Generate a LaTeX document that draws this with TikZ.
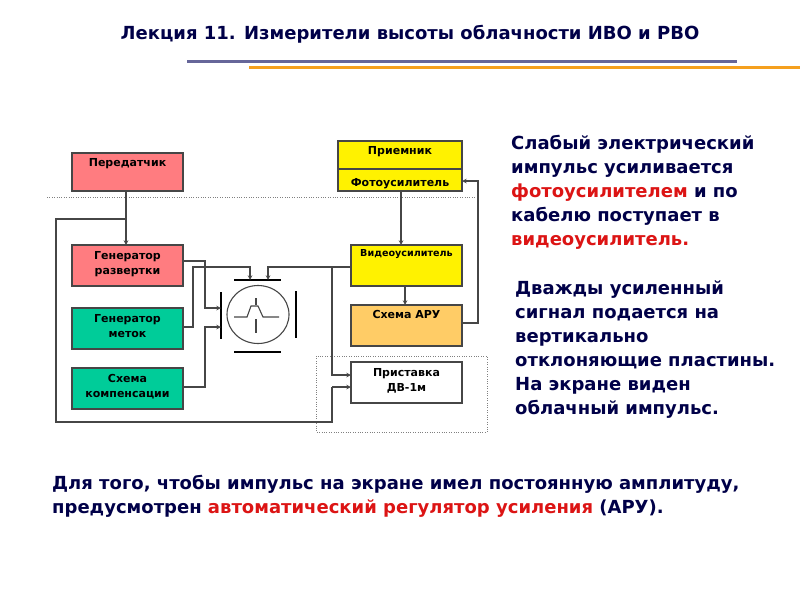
\documentclass[tikz,border=0pt]{standalone}
\usepackage{fontspec}
\setmainfont{DejaVu Sans}
\usetikzlibrary{positioning}
\definecolor{navytext}{RGB}{0,0,72}
\definecolor{redtext}{RGB}{220,20,20}
\definecolor{pinkbox}{RGB}{255,124,128}
\definecolor{greenbox}{RGB}{0,204,153}
\definecolor{orangebox}{RGB}{255,204,102}
\definecolor{rulebar}{RGB}{102,102,153}
\definecolor{rulelight}{RGB}{245,160,30}
\definecolor{wire}{RGB}{70,70,70}
\begin{document}
\begin{tikzpicture}[x=1pt, y=-1pt, node distance=22pt,
        block/.style={rectangle, draw=wire, line width=1.1pt, outer sep=0pt, minimum width=111pt, minimum height=41pt, inner sep=0pt, align=center, text=black, font=\fontsize{11}{15}\selectfont\bfseries},
        line/.style={draw=wire, line width=1.1pt, -stealth},
        wire/.style={draw=wire, line width=1.1pt},
        plate/.style={draw=black, line width=2pt},
        para/.style={anchor=north west, inner sep=0pt, align=left, text=navytext, font=\fontsize{18}{24}\selectfont\bfseries}]

    \useasboundingbox (0,0) rectangle (800,600);

    \node [anchor=center, inner sep=0pt, text=navytext, font=\fontsize{18}{20}\selectfont\bfseries] (title) at (410,34) {Лекция 11. Измерители высоты облачности ИВО и РВО};
    \draw [rulebar, line width=3pt] (187,61) -- (737,61);
    \draw [rulelight, line width=3pt] (249,67) -- (800,67);

    \draw [gray, dotted] (47,197) -- (475,197);
    \draw [gray, dotted] (316,356) rectangle (487,432);

    % left column
    \node [block, fill=pinkbox, minimum height=38pt, anchor=north west] (pered) at (72,153) {Передатчик\\[5pt]~};
    \node [block, fill=pinkbox, below=54pt of pered] (genrazv) {Генератор\\развертки\\[-9pt]~};
    \node [block, fill=greenbox, below=of genrazv] (genmet) {Генератор\\меток\\[-9pt]~};
    \node [block, fill=greenbox, below=19pt of genmet] (komp) {Схема\\компенсации\\[-9pt]~};

    % right column
    \node [block, fill=yellow, minimum width=124pt, minimum height=28pt, anchor=north west] (priem) at (338,141) {Приемник\\[-5pt]~};
    \node [block, fill=yellow, minimum width=124pt, minimum height=22pt, below=0pt of priem] (foto) {~\\[1pt]Фотоусилитель};
    \node [block, fill=yellow, anchor=north west, font=\fontsize{9.6}{15}\selectfont\bfseries] (video) at (351,245) {Видеоусилитель\\[10pt]~};
    \node [block, fill=orangebox, below=19pt of video] (aru) {Схема АРУ\\[8pt]~};
    \node [block, fill=white, below=16pt of aru] (prist) {Приставка\\ДВ-1м\\[-9pt]~};

    % tube
    \draw [plate] (234,280) -- (281,280);
    \draw [plate] (234,352) -- (281,352);
    \draw [plate] (221,292) -- (221,339);
    \draw [plate] (296,291) -- (296,338);
    \draw [wire] (258,314.5) ellipse (31 and 29);
    \draw [wire] (234,317) -- (247,317) -- (251,306) -- (258,306) -- (263,317) -- (279,317);
    \draw [wire] (256,298) -- (256,305);
    \draw [wire] (256,319) -- (256,333);

    \coordinate (plleft1) at (221,308);
    \coordinate (plleft2) at (221,327);
    \coordinate (pltop1) at (250,280);
    \coordinate (pltop2) at (268,280);

    % connections
    \path [line] (pered.south -| 126,0) -- (genrazv.north -| 126,0);
    \path [wire] (126,219) -- (56,219) -- (56,422) -- (332,422) -- (332,387);
    \path [line] (332,387) -- (prist.west |- 0,387);
    \path [line] (genrazv.east |- 0,261) -- (205,261) -- (205,308) -- (plleft1);
    \path [line] (genmet.east |- 0,327) -- (193,327) -- (193,267) -- (250,267) -- (pltop1);
    \path [line] (komp.east |- 0,387) -- (205,387) -- (205,327) -- (plleft2);
    \path [line] (video.west |- 0,267) -- (268,267) -- (pltop2);
    \path [line] (332,267) -- (332,375) -- (prist.west |- 0,375);
    \path [line] (foto.south -| 401,0) -- (video.north -| 401,0);
    \path [line] (video.south -| 405,0) -- (aru.north -| 405,0);
    \path [line] (aru.east |- 0,323) -- (478,323) -- (478,181) -- (foto.east |- 0,181);

    % texts
    \node [para] (slabyj) at (511,135) {Слабый электрический\\импульс усиливается\\{\color{redtext}фотоусилителем} и по\\кабелю поступает в\\{\color{redtext}видеоусилитель.}};
    \node [para] (dvazhdy) at (515,281) {Дважды усиленный\\сигнал подается на\\вертикально\\отклоняющие пластины.\\На экране виден\\облачный импульс.};
    \node [para] (dlya) at (52,475) {Для того, чтобы импульс на экране имел постоянную амплитуду,\\предусмотрен {\color{redtext}автоматический регулятор усиления} (АРУ).};
\end{tikzpicture}
\end{document}
